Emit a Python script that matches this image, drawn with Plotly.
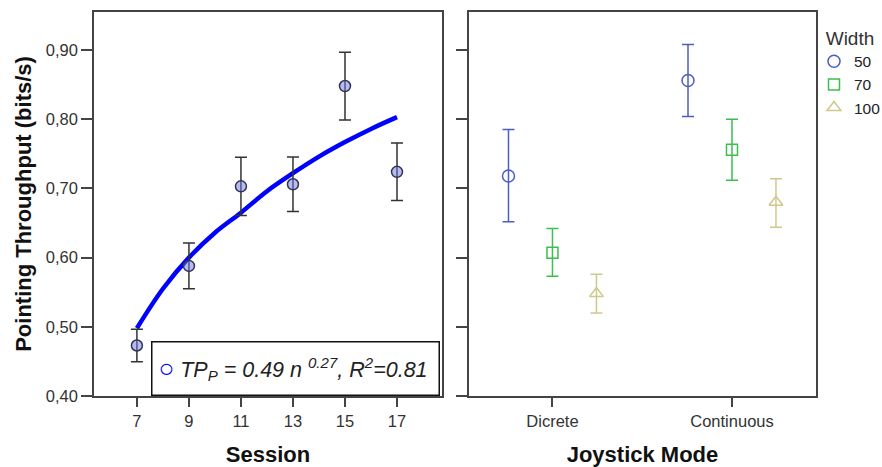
import plotly.graph_objects as go

# ---- Left panel data: throughput by session ----
sessions = [7, 9, 11, 13, 15, 17]
tp_mean = [0.473, 0.588, 0.703, 0.706, 0.848, 0.724]
tp_err = [0.0235, 0.033, 0.042, 0.0395, 0.049, 0.0415]

# fitted power curve at each session
fit_sessions = [7, 8, 9, 10, 11, 12, 13, 14, 15, 16, 17]
fit_values = [0.498, 0.555, 0.600, 0.636, 0.665, 0.696, 0.722, 0.746, 0.767, 0.786, 0.803]

# ---- Right panel data: throughput by joystick mode and width ----
modes = ["Dicrete", "Continuous"]
widths = ["50", "70", "100"]
mode_mean = {
    "50": [0.718, 0.856],
    "70": [0.607, 0.756],
    "100": [0.548, 0.680],
}
mode_err_plus = {
    "50": [0.067, 0.052],
    "70": [0.035, 0.044],
    "100": [0.028, 0.034],
}
mode_err_minus = {
    "50": [0.066, 0.052],
    "70": [0.034, 0.044],
    "100": [0.028, 0.036],
}

y_ticks = [0.40, 0.50, 0.60, 0.70, 0.80, 0.90]

W_COLORS = {"50": "#4a5fc1", "70": "#3cbf4c", "100": "#cfc88c"}
W_SYMBOLS = {"50": "circle-open", "70": "square-open", "100": "triangle-up-open"}
W_SIZES = {"50": 12, "70": 11, "100": 12}

FONT = "Liberation Sans, Arial, sans-serif"
AX = "#444444"

fig = go.Figure()

# fit curve
fig.add_trace(go.Scatter(
    x=fit_sessions, y=fit_values, mode="lines",
    line=dict(color="#0000ff", width=4.5, shape="spline"),
    showlegend=False, xaxis="x", yaxis="y", hoverinfo="skip",
))
# session means with error bars
fig.add_trace(go.Scatter(
    x=sessions, y=tp_mean, mode="markers",
    marker=dict(symbol="circle", size=11, color="rgba(110,120,225,0.5)",
                line=dict(color="#333355", width=1.5)),
    error_y=dict(type="data", array=tp_err, color="#333333", thickness=1.5, width=6),
    showlegend=False, xaxis="x", yaxis="y",
))

# right panel traces
offset = 0.245
for k, w in enumerate(widths):
    xs = [i + (k - 1) * offset for i in range(len(modes))]
    fig.add_trace(go.Scatter(
        x=xs, y=mode_mean[w], mode="markers", name=w,
        marker=dict(symbol=W_SYMBOLS[w], size=W_SIZES[w], color=W_COLORS[w],
                    line=dict(color=W_COLORS[w], width=1.5)),
        error_y=dict(type="data", symmetric=False, array=mode_err_plus[w],
                     arrayminus=mode_err_minus[w], color=W_COLORS[w],
                     thickness=1.5, width=6),
        xaxis="x2", yaxis="y2",
    ))

W, H = 882, 467
ybot = (H - 396) / H
ytop = (H - 12) / H

common_axis = dict(showgrid=False, zeroline=False, showline=True, mirror=True,
                   linecolor=AX, linewidth=1.5, ticks="outside", tickcolor=AX,
                   tickwidth=1.5, automargin=False,
                   tickfont=dict(family=FONT, size=16.5, color="#333333"))

fig.update_layout(
    width=W, height=H,
    margin=dict(l=0, r=0, t=0, b=0, autoexpand=False),
    paper_bgcolor="white", plot_bgcolor="white",
    separators=",.",
    font=dict(family=FONT, color="#222222"),
    xaxis=dict(domain=[94 / W, 442 / W], range=[5.35, 18.73], tickvals=sessions,
               ticklen=9, anchor="y",
               title=dict(text="<b>Session</b>", font=dict(family=FONT, size=22, color="#111111"),
                          standoff=19),
               **common_axis),
    yaxis=dict(domain=[ybot, ytop], range=[0.40, 0.955], tickvals=y_ticks,
               tickformat=".2f", ticklen=11, anchor="x",
               title=dict(text="<b>Pointing Throughput (bits/s)</b>",
                          font=dict(family=FONT, size=22, color="#111111"), standoff=8),
               **common_axis),
    xaxis2=dict(domain=[469 / W, 816 / W], range=[-0.465, 1.468],
                tickvals=list(range(len(modes))), ticktext=modes, ticklen=9, anchor="y2",
                title=dict(text="<b>Joystick Mode</b>", font=dict(family=FONT, size=22, color="#111111"),
                           standoff=19),
                **common_axis),
    yaxis2=dict(domain=[ybot, ytop], range=[0.40, 0.955], tickvals=y_ticks,
                showticklabels=False, ticklen=11, anchor="x2", **common_axis),
    legend=dict(x=814 / W, y=1 - 20 / H, xanchor="left", yanchor="top",
                title=dict(text="Width", side="top center",
                           font=dict(family=FONT, size=19, color="#333333")),
                font=dict(family=FONT, size=15.5, color="#222222"),
                itemwidth=30, tracegroupgap=0, bgcolor="rgba(0,0,0,0)"),
)

# fit legend box inside left panel
fig.add_annotation(
    xref="paper", yref="paper", x=151 / W, y=ybot, xanchor="left", yanchor="bottom",
    text="&nbsp;<span style='color:#0000ff;font-size:26px'>○</span> <i>TP<sub>P</sub> = 0.49 n <sup>0.27</sup>, R<sup>2</sup>=0.81</i>",
    showarrow=False, align="left", width=286, height=52,
    font=dict(family=FONT, size=21.5, color="#222222"),
    bordercolor="#111111", borderwidth=1.5, borderpad=0, bgcolor="white",
)

fig.write_html("out.html", config={"displayModeBar": False},
               post_script="document.body.style.margin='0';document.body.style.padding='0';")
